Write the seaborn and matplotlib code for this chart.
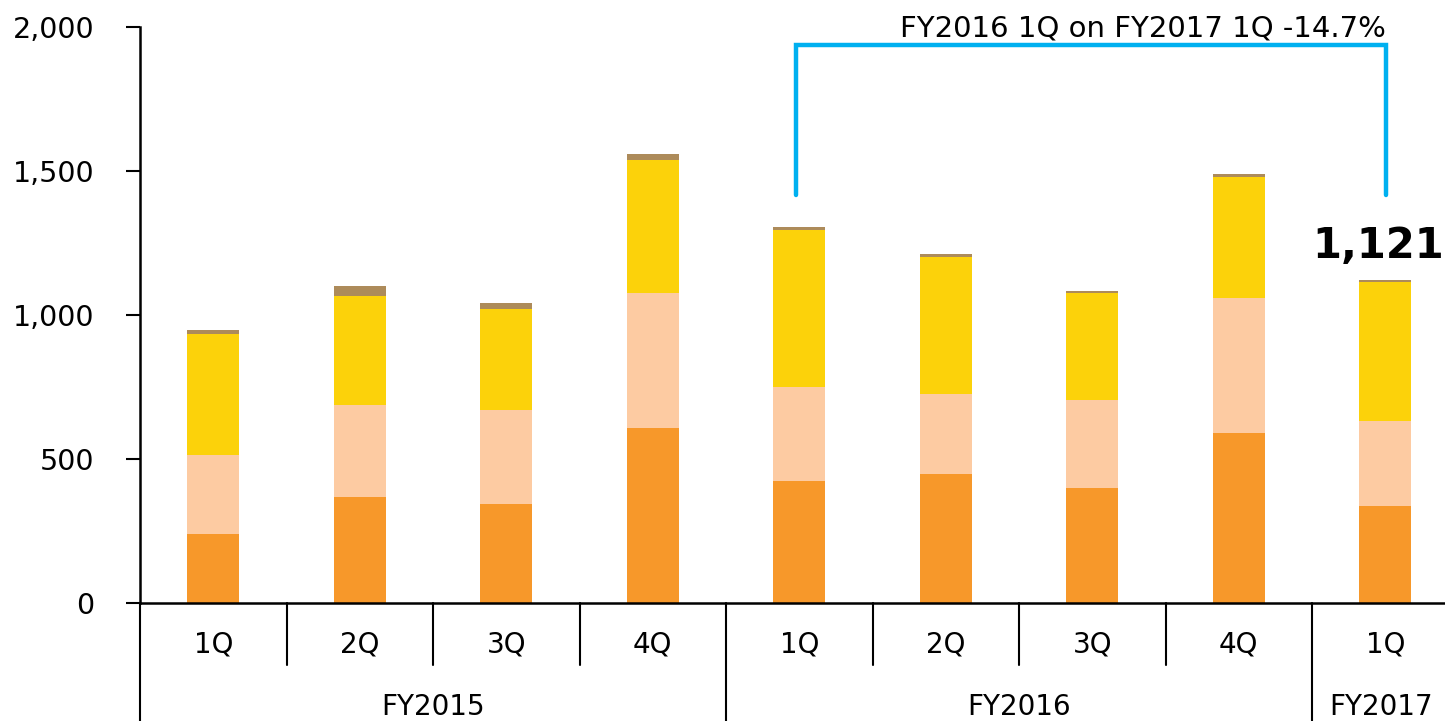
import matplotlib
matplotlib.use("Agg")
import matplotlib.pyplot as plt
import matplotlib.transforms as mtransforms
from matplotlib.ticker import FuncFormatter
import numpy as np
import pandas as pd
import seaborn as sns

# Quarterly values, stacked bottom to top
years = ["FY2015", "FY2015", "FY2015", "FY2015",
         "FY2016", "FY2016", "FY2016", "FY2016", "FY2017"]
quarters = ["1Q", "2Q", "3Q", "4Q", "1Q", "2Q", "3Q", "4Q", "1Q"]
seg_orange = [240, 368, 344, 608, 424, 448, 399, 590, 337]
seg_peach = [274, 320, 326, 468, 326, 278, 306, 469, 295]
seg_yellow = [420, 378, 351, 462, 545, 475, 371, 420, 483]
seg_brown = [14, 35, 21, 21, 10, 11, 7, 11, 6]

bracket_text = "FY2016 1Q on FY2017 1Q -14.7%"

colors = ["#F7982A", "#FDCBA2", "#FCD20A", "#AD8B5A"]

keys = [f"{y} {q}" for y, q in zip(years, quarters)]
layers = np.array([seg_orange, seg_peach, seg_yellow, seg_brown])
cumulative = np.cumsum(layers, axis=0)

df = pd.DataFrame({"key": keys})
for i in range(4):
    df[f"c{i}"] = cumulative[i]

sns.set_theme(style="white")
plt.rcParams["font.family"] = ["DejaVu Sans"]

W, H = 1445, 721
fig = plt.figure(figsize=(W / 100, H / 100), dpi=100)
ax_left, ax_bottom = 140 / W, (H - 603) / H
ax_w, ax_h = (1458.5 - 140) / W, 576 / H
ax = fig.add_axes([ax_left, ax_bottom, ax_w, ax_h])

# Tallest layer first so lower layers overlay it
for i in reversed(range(4)):
    sns.barplot(data=df, x="key", y=f"c{i}", order=keys, color=colors[i],
                saturation=1, width=0.355, linewidth=0, ax=ax)

ax.set_xlim(-0.5, 8.5)
ax.set_ylim(0, 2000)
ax.set_yticks([0, 500, 1000, 1500, 2000])
ax.yaxis.set_major_formatter(FuncFormatter(lambda v, p: f"{int(v):,}"))
ax.tick_params(axis="y", which="major", left=True, length=10, width=1.5,
               color="black", labelcolor="black", labelsize=20.5, pad=23,
               direction="out")
ax.set_xticks([])
ax.set_xlabel("")
ax.set_ylabel("")
for s in ["top", "right"]:
    ax.spines[s].set_visible(False)
for s in ["left", "bottom"]:
    ax.spines[s].set_color("black")
    ax.spines[s].set_linewidth(1.8)

# Category hierarchy below the axis
trans = mtransforms.blended_transform_factory(ax.transData, ax.transAxes)
q_depth = -62 / 576
y_depth = -118 / 576
for b in [0.5, 1.5, 2.5, 4.5, 5.5, 6.5]:
    ax.plot([b, b], [0, q_depth], transform=trans, color="black", lw=1.5,
            clip_on=False)
for b in [-0.5, 3.5, 7.5]:
    ax.plot([b, b], [0, y_depth], transform=trans, color="black", lw=1.5,
            clip_on=False)
for i, q in enumerate(quarters):
    ax.text(i, -42 / 576, q, transform=trans, ha="center", va="center",
            fontsize=20, color="black")
year_groups = {}
for i, y in enumerate(years):
    year_groups.setdefault(y, []).append(i)
for y, idx in year_groups.items():
    cx = (min(idx) + max(idx)) / 2
    if y == "FY2017":
        cx = 7.97
    ax.text(cx, -104 / 576, y, transform=trans, ha="center", va="center",
            fontsize=20, color="black", clip_on=False)

# Comparison bracket between FY2016 1Q and FY2017 1Q
bx0, bx1 = 4 - 0.02, 8 + 0.005
ax.plot([bx0, bx0, bx1, bx1], [1417, 1937, 1937, 1417], color="#00B0F0",
        lw=3.2, solid_joinstyle="miter", clip_on=False)
ax.text(bx1, 1968, bracket_text, ha="right", va="baseline", fontsize=21,
        color="black")

# Latest total
total_last = int(cumulative[-1, -1])
ax.text(7.95, total_last + 46, f"{total_last:,}", ha="center", va="bottom",
        fontsize=30, fontweight="bold", color="black")

fig.savefig("out.png", dpi=100)
